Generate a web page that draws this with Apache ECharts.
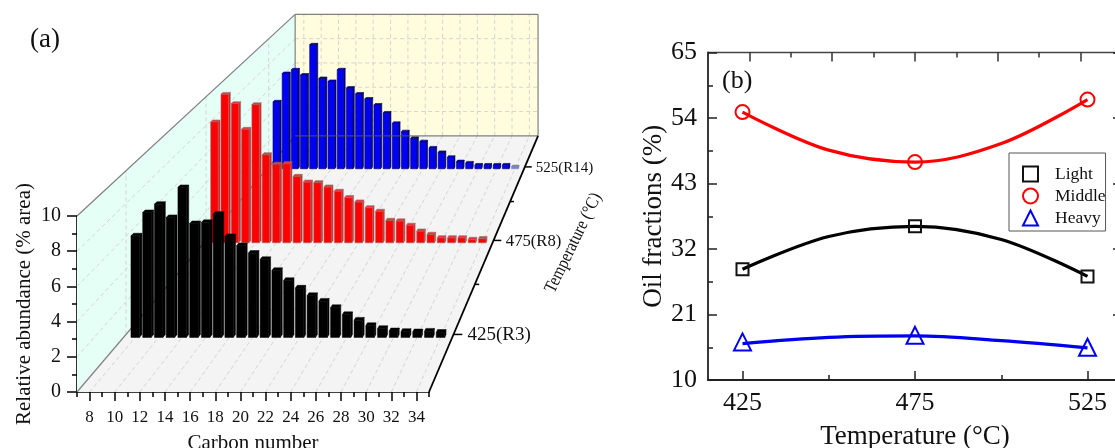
<!DOCTYPE html>
<html>
<head>
<meta charset="utf-8">
<style>html,body{margin:0;padding:0;background:#fff;overflow:hidden}#c{width:1115px;height:448px}</style>
<script src="https://cdn.jsdelivr.net/npm/echarts@6/dist/echarts.min.js"></script>
</head>
<body>
<div id="c"></div>
<script>
// ---- panel (a) data ----
const carbons = [8,9,10,11,12,13,14,15,16,17,18,19,20,21,22,23,24,25,26,27,28,29,30,31,32,33,34];
const r3Values = [6.18,7.6,8.11,7.3,9.13,6.93,7.0,7.5,6.14,5.59,5.12,4.74,4.07,3.46,3.0,2.54,2.2,1.81,1.38,1.04,0.71,0.53,0.39,0.35,0.33,0.37,0.3];
const r8Values = [8.38,10.3,9.65,7.87,9.58,6.1,5.44,5.48,4.6,4.2,4.16,3.86,3.56,3.12,2.82,2.42,2.17,1.54,1.5,1.2,0.8,0.57,0.33,0.33,0.33,0.22,0.27];
const r14Values = [5.2,7.41,7.7,7.29,9.65,7.02,6.79,7.7,6.27,5.81,5.42,4.95,4.33,3.52,2.87,2.35,2.09,1.6,1.25,0.87,0.53,0.43,0.27,0.27,0.27,0.27,0.14];
const rowTemps = [425,475,525];
const rowLabels = ['425(R3)','475(R8)','525(R14)'];
const minorTemps = [450,500];
const carbonMajorTicks = [8,10,12,14,16,18,20,22,24,26,28,30,32,34];
const carbonMinorTicks = [7,9,11,13,15,17,19,21,23,25,27,29,31,33,35];
const abundanceLevels = [2,4,6,8];
// ---- panel (b) data ----
const tempTicks = [425,475,525];
const tempMinorTicks = [450,500];
const topMajorTicks = [427,451,475,499,523];
const topMinorTicks = [439,463,487,511];
const fracTicks = [10,21,32,43,54,65];
const fracMinorTicks = [15.5,26.5,37.5,48.5,59.5];
const lightValues = [28.6,35.8,27.4];
const middleValues = [55.0,46.6,57.1];
const heavyValues = [16.4,17.5,15.5];
// fitted curves
const curveTemps = [425,450,475,500,525];
const lightCurve = [28.6,34.1,35.8,33.6,27.4];
const middleCurve = [55.0,48.6,46.6,49.7,57.1];
const heavyCurve = [16.1,17.15,17.4,16.6,15.4];

// ---- perspective of panel (a): front-plane axes -> scaled towards a vanishing point ----
const VP = [781,-434.7], DEPTH_K = 0.449, T0 = 400, T1 = 550, C0 = 7, C1 = 35, V1 = 10;
const serif = '"Liberation Serif","Times New Roman",serif';
function scaleAt(t){ return 1/(1+DEPTH_K*(t-T0)/(T1-T0)); }
function proj(api,c,t,v){
  const p = api.coord([c,v]), s = scaleAt(t);
  return [VP[0]+(p[0]-VP[0])*s, VP[1]+(p[1]-VP[1])*s];
}
const cAxis = {xAxisIndex:0,yAxisIndex:0,coordinateSystem:'cartesian2d',silent:true,clip:false};

// planes
const planes = [
  {fill:'#f4f4f4',pts:[[C0,T0,0],[C1,T0,0],[C1,T1,0],[C0,T1,0]]},
  {fill:'#e6fff6',pts:[[C0,T0,0],[C0,T1,0],[C0,T1,V1],[C0,T0,V1]]},
  {fill:'#fffddd',pts:[[C0,T1,0],[C1,T1,0],[C1,T1,V1],[C0,T1,V1]]}
];
// dashed guides
const guides = [];
carbonMajorTicks.forEach(c=>{ guides.push([c,T0,0,c,T1,0]); guides.push([c,T1,0,c,T1,V1]); });
abundanceLevels.forEach(v=>{ guides.push([C0,T0,v,C0,T1,v]); guides.push([C0,T1,v,C1,T1,v]); });
rowTemps.forEach(t=>{ guides.push([C0,t,0,C0,t,V1]); });
// wall outlines
const edges = [[C0,T0,0,C0,T1,0],[C0,T0,V1,C0,T1,V1],[C0,T1,0,C0,T1,V1],[C0,T1,V1,C1,T1,V1],[C1,T1,0,C1,T1,V1]];
const backFloorEdge = [[C0,T1,0,C1,T1,0]];
const depthAxis = [[C1,T0,0,C1,T1,0]];

function planeSeries(){
  return Object.assign({type:'custom',z:1,data:planes.map((p,i)=>[i]),encode:{x:0,y:0},
    renderItem(params,api){
      const p = planes[api.value(0)];
      return {type:'polygon',shape:{points:p.pts.map(q=>proj(api,q[0],q[1],q[2]))},style:{fill:p.fill}};
    }},cAxis);
}
function segSeries(segs,style,z){
  return Object.assign({type:'custom',z:z,data:segs,encode:{x:0,y:2},
    renderItem(params,api){
      const a = proj(api,api.value(0),api.value(1),api.value(2));
      const b = proj(api,api.value(3),api.value(4),api.value(5));
      return {type:'line',shape:{x1:a[0],y1:a[1],x2:b[0],y2:b[1]},style:Object.assign({fill:null},style)};
    }},cAxis);
}
function barSeries(values,temp,pal,z){
  const hw = 0.36, depth = 1.4;
  return Object.assign({type:'custom',z:z,data:values.map((v,i)=>[carbons[i],temp,v]),encode:{x:0,y:2},
    renderItem(params,api){
      const c = api.value(0), t = api.value(1), v = api.value(2);
      const P = (cc,tt,vv)=>proj(api,cc,tt,vv);
      const l=c-hw,r=c+hw,f=t-depth,b=t;
      const faded = pal.fadedBelow && v<pal.fadedBelow;
      const st = (fill)=>({fill:faded?pal.faded:fill,stroke:faded?pal.fadedStroke:pal.stroke,lineWidth:pal.lw});
      return {type:'group',children:[
        {type:'polygon',shape:{points:[P(r,f,0),P(r,b,0),P(r,b,v),P(r,f,v)]},style:st(pal.side)},
        {type:'polygon',shape:{points:[P(l,f,v),P(r,f,v),P(r,b,v),P(l,b,v)]},style:st(pal.top)},
        {type:'polygon',shape:{points:[P(l,f,0),P(r,f,0),P(r,f,v),P(l,f,v)]},style:st(pal.face)}
      ]};
    }},cAxis);
}
function depthTicks(temps,len,z){
  return Object.assign({type:'custom',z:z,data:temps.map(t=>[C1,t,0]),encode:{x:0,y:2},
    renderItem(params,api){
      const a = proj(api,api.value(0),api.value(1),api.value(2));
      return {type:'line',shape:{x1:a[0],y1:a[1],x2:a[0]+len*scaleAt(api.value(1)),y2:a[1]},style:{stroke:'#000',lineWidth:1.5}};
    }},cAxis);
}
const rowFont = {425:19,475:16.7,525:15};
function depthLabels(z){
  return Object.assign({type:'custom',z:z,data:rowTemps.map(t=>[C1,t,0]),encode:{x:0,y:2},
    renderItem(params,api){
      const t = api.value(1), a = proj(api,api.value(0),t,api.value(2));
      return {type:'text',x:a[0]+15*scaleAt(t),y:a[1]+1,style:{text:rowLabels[params.dataIndex],font:rowFont[t]+'px '+serif,fill:'#111',align:'left',verticalAlign:'middle'}};
    }},cAxis);
}
const blackPal = {face:'#000',side:'#000',top:'#000',stroke:'#000',lw:0.5};
const redPal = {face:'#ff0000',side:'#e11a1a',top:'#e23a3a',stroke:'#9a6a6a',lw:0.6};
const bluePal = {face:'#0000f5',side:'#0000b4',top:'#0000c8',stroke:'#00004a',lw:0.6,fadedBelow:0.2,faded:'#7a7ae6',fadedStroke:'#8888aa'};

function hiddenAxis(gridIndex,position,extra,type){
  return Object.assign({type:'value',gridIndex,position,axisLine:{show:false,onZero:false},splitLine:{show:false},axisLabel:{show:false},axisTick:{show:false}},extra);
}
const aLine = {show:true,onZero:false,lineStyle:{color:'#000',width:1.6}};
const bLine = {show:true,onZero:false,lineStyle:{color:'#222',width:1.8}};
const aLabel = {fontFamily:serif,color:'#111'};

const xAxes = [
  {type:'value',gridIndex:0,position:'bottom',min:C0,max:C1,axisLine:aLine,splitLine:{show:false},
   axisTick:{customValues:carbonMajorTicks,length:9,lineStyle:{color:'#000',width:1.5}},
   axisLabel:Object.assign({},aLabel,{customValues:carbonMajorTicks,fontSize:17,margin:17}),
   name:'Carbon number',nameLocation:'middle',nameGap:41,nameTextStyle:{fontFamily:serif,fontSize:21,color:'#111'}},
  hiddenAxis(0,'bottom',{min:C0,max:C1,axisTick:{show:true,customValues:carbonMinorTicks,length:5,lineStyle:{color:'#000',width:1.5}}}),
  {type:'value',gridIndex:1,position:'bottom',min:415,max:535,axisLine:bLine,splitLine:{show:false},
   axisTick:{inside:true,customValues:tempTicks,length:9,lineStyle:{color:'#222',width:1.5}},
   axisLabel:Object.assign({},aLabel,{customValues:tempTicks,fontSize:26,margin:10}),
   name:'Temperature (°C)',nameLocation:'middle',nameGap:43,nameTextStyle:{fontFamily:serif,fontSize:27,color:'#111'}},
  hiddenAxis(1,'bottom',{min:415,max:535,axisTick:{show:true,inside:true,customValues:tempMinorTicks,length:5,lineStyle:{color:'#222',width:1.5}}}),
  hiddenAxis(1,'top',{min:415,max:535,axisLine:{show:true,onZero:false,lineStyle:{color:'#444',width:1.4}},axisTick:{show:true,inside:true,customValues:topMajorTicks,length:9,lineStyle:{color:'#333',width:1.5}}}),
  hiddenAxis(1,'top',{min:415,max:535,axisTick:{show:true,inside:true,customValues:topMinorTicks,length:5,lineStyle:{color:'#333',width:1.5}}})
];
const yAxes = [
  {type:'value',gridIndex:0,position:'left',min:0,max:V1,interval:2,axisLine:aLine,splitLine:{show:false},
   axisTick:{length:10,lineStyle:{color:'#000',width:1.5}},minorTick:{show:true,splitNumber:2,length:5,lineStyle:{color:'#000',width:1.5}},
   axisLabel:Object.assign({},aLabel,{fontSize:20,margin:16,padding:[2,0,0,0]}),
   name:'Relative abundance (% area)',nameLocation:'middle',nameGap:42,nameTextStyle:{fontFamily:serif,fontSize:21,color:'#111'}},
  {type:'value',gridIndex:1,position:'left',min:10,max:65,axisLine:bLine,splitLine:{show:false},
   axisTick:{inside:true,customValues:fracTicks,length:9,lineStyle:{color:'#222',width:1.5}},
   axisLabel:Object.assign({},aLabel,{customValues:fracTicks,fontSize:26,margin:11,padding:[4,0,0,0]}),
   name:'Oil fractions (%)',nameLocation:'middle',nameGap:41,nameTextStyle:{fontFamily:serif,fontSize:27,color:'#111'}},
  hiddenAxis(1,'left',{min:10,max:65,axisTick:{show:true,inside:true,customValues:fracMinorTicks,length:5,lineStyle:{color:'#222',width:1.5}}}),
  hiddenAxis(1,'right',{min:10,max:65,axisLine:{show:true,onZero:false,lineStyle:{color:'#222',width:1.5}},axisTick:{show:true,inside:true,customValues:fracTicks,length:9,lineStyle:{color:'#222',width:1.5}}})
];

function fitSeries(name,vals,color){
  return {type:'line',name:name+' fit',xAxisIndex:2,yAxisIndex:1,data:curveTemps.map((t,i)=>[t,vals[i]]),
    smooth:0.35,showSymbol:false,symbol:'none',silent:true,z:5,lineStyle:{color,width:3.2}};
}
function markSeries(name,vals,color,symbol,size){
  return {type:'scatter',name,xAxisIndex:2,yAxisIndex:1,data:tempTicks.map((t,i)=>[t,vals[i]]),symbol,symbolSize:size,silent:true,z:6,
    itemStyle:{color:'transparent',borderColor:color,borderWidth:2,opacity:1}};
}

const option = {
  animation:false,
  backgroundColor:'#fff',
  grid:[
    {left:77,top:216,width:352,height:176,containLabel:false,outerBoundsMode:'none'},
    {left:708,top:52.5,width:414,height:327.5,containLabel:false,outerBoundsMode:'none'}
  ],
  xAxis:xAxes,
  yAxis:yAxes,
  legend:{data:['Light','Middle','Heavy'],orient:'vertical',left:1009,top:153,itemWidth:15,itemHeight:15,itemGap:4,
    padding:[12,0,4,13],borderColor:'#555',borderWidth:1,backgroundColor:'#fff',selectedMode:false,z:10,
    textStyle:{fontFamily:serif,fontSize:17.5,color:'#111',padding:[0,0,0,12]}},
  graphic:[
    {type:'text',x:30,y:40,style:{text:'(a)',font:'27px '+serif,fill:'#111',verticalAlign:'middle'}},
    {type:'text',x:722,y:81,style:{text:'(b)',font:'26px '+serif,fill:'#111',verticalAlign:'middle'}},
    {type:'text',x:573.5,y:243,rotation:64*Math.PI/180,scaleX:0.86,style:{text:'Temperature (°C)',font:'18px '+serif,fill:'#111',align:'center',verticalAlign:'middle'}}
  ],
  series:[
    planeSeries(),
    segSeries(guides,{stroke:'#d4d4d4',lineWidth:1,lineDash:[4,3]},2),
    segSeries(edges,{stroke:'#808080',lineWidth:1.2},3),
    barSeries(r14Values,rowTemps[2],bluePal,4),
    segSeries(backFloorEdge,{stroke:'rgba(90,90,90,0.75)',lineWidth:1.2},5),
    barSeries(r8Values,rowTemps[1],redPal,6),
    barSeries(r3Values,rowTemps[0],blackPal,7),
    segSeries(depthAxis,{stroke:'#000',lineWidth:1.8},8),
    depthTicks(rowTemps,9.5,8),
    depthTicks(minorTemps,5,8),
    depthLabels(8),
    fitSeries('Light',lightCurve,'#000'),
    fitSeries('Middle',middleCurve,'#ff0000'),
    fitSeries('Heavy',heavyCurve,'#0000f0'),
    markSeries('Light',lightValues,'#111','rect',12),
    markSeries('Middle',middleValues,'#ff0000','circle',14),
    markSeries('Heavy',heavyValues,'#0000f0','triangle',17)
  ]
};
const chart = echarts.init(document.getElementById('c'),null,{renderer:'canvas',width:1115,height:448});
chart.setOption(option);
</script>
</body>
</html>
